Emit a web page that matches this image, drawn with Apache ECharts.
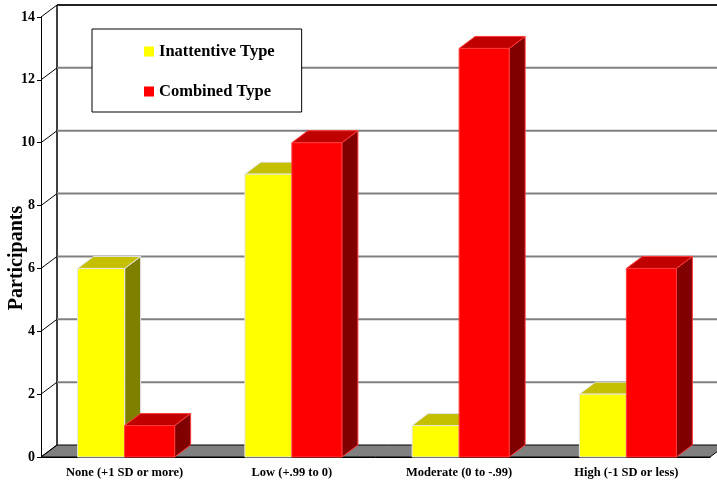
<!DOCTYPE html>
<html>
<head>
<meta charset="utf-8">
<style>
  html, body { margin: 0; padding: 0; background: #fff; }
  #chart { width: 717px; height: 486px; }
</style>
<script src="https://cdn.jsdelivr.net/npm/echarts@6/dist/echarts.min.js"></script>
</head>
<body>
<div id="chart"></div>
<script>
// Severity groups along the horizontal axis
var categories = ['None (+1 SD or more)', 'Low (+.99 to 0)', 'Moderate (0 to -.99)', 'High (-1 SD or less)'];
// Participant counts per group
var inattentive = [6, 9, 1, 2];
var combined = [1, 10, 13, 6];
// Vertical axis ticks
var yTicks = [0, 2, 4, 6, 8, 10, 12, 14];

var FONT = '"Liberation Serif", "Times New Roman", serif';
// Depth of the pseudo-3D box (pixels to the right and up)
var DX = 16, DY = -12;

function boxBar(frac0, frac1, front, top, side, edge) {
  return function (params, api) {
    var cat = api.value(0), v = api.value(1);
    var b = api.coord([cat, 0]);
    var t = api.coord([cat, v]);
    var w = api.size([1, 0])[0];
    var x0 = b[0] + frac0 * w, x1 = b[0] + frac1 * w;
    var yb = b[1], yt = t[1];
    var st = { stroke: edge, lineWidth: 1 };
    return {
      type: 'group',
      children: [
        { type: 'polygon', shape: { points: [[x1, yt], [x1 + DX, yt + DY], [x1 + DX, yb + DY], [x1, yb]] },
          style: Object.assign({ fill: side }, st) },
        { type: 'polygon', shape: { points: [[x0, yt], [x1, yt], [x1 + DX, yt + DY], [x0 + DX, yt + DY]] },
          style: Object.assign({ fill: top }, st) },
        { type: 'rect', shape: { x: x0, y: yt, width: x1 - x0, height: yb - yt },
          style: Object.assign({ fill: front }, st) }
      ]
    };
  };
}

// Back wall, left wall and floor of the box
function walls(params, api) {
  var v = api.value(0);
  var cs = params.coordSys;
  var xL = cs.x, xR = cs.x + cs.width;
  var y = api.coord([0, v])[1];
  var kids = [];
  if (v === yTicks[0]) {
    kids.push({ type: 'polygon', shape: { points: [[xL, y], [xR, y], [xR + DX, y + DY], [xL + DX, y + DY]] },
      style: { fill: '#808080', stroke: '#000', lineWidth: 1 } });
    var yTop = api.coord([0, yTicks[yTicks.length - 1]])[1];
    kids.push({ type: 'line', shape: { x1: xL + DX, y1: y + DY, x2: xL + DX, y2: yTop + DY },
      style: { stroke: '#000', lineWidth: 1.5 } });
  } else {
    var isTop = v === yTicks[yTicks.length - 1];
    kids.push({ type: 'line', shape: { x1: xL + DX, y1: y + DY, x2: xR + DX + 20, y2: y + DY },
      style: { stroke: isTop ? '#222' : '#808080', lineWidth: 2 } });
  }
  kids.push({ type: 'line', shape: { x1: xL, y1: y, x2: xL + DX, y2: y + DY },
    style: { stroke: '#000', lineWidth: 1 } });
  return { type: 'group', children: kids };
}

var chart = echarts.init(document.getElementById('chart'), null, { renderer: 'canvas' });
chart.setOption({
  animation: false,
  backgroundColor: '#fff',
  grid: { left: 41, right: 7, top: 17, bottom: 29, containLabel: false, outerBoundsMode: 'none' },
  graphic: [{
    type: 'text',
    x: 17, y: 258,
    rotation: Math.PI / 2,
    style: {
      text: 'Participants',
      fontFamily: FONT, fontWeight: 'bold', fontSize: 20, fill: '#000',
      align: 'center', verticalAlign: 'middle'
    }
  }],
  legend: {
    orient: 'vertical',
    left: 92, top: 29,
    padding: [14, 27, 12, 52],
    itemGap: 23,
    itemWidth: 10, itemHeight: 10,
    icon: 'rect',
    borderColor: '#000', borderWidth: 1,
    backgroundColor: '#fff',
    textStyle: { fontFamily: FONT, fontWeight: 'bold', fontSize: 16.5, color: '#000' },
    data: ['Inattentive Type', 'Combined Type']
  },
  xAxis: {
    type: 'category',
    data: categories,
    boundaryGap: true,
    axisLine: { lineStyle: { color: '#000', width: 1 } },
    axisTick: { length: 5, lineStyle: { color: '#000' } },
    axisLabel: { fontFamily: FONT, fontWeight: 'bold', fontSize: 12.5, color: '#000', margin: 9 },
    splitLine: { show: false }
  },
  yAxis: {
    type: 'value',
    min: 0, max: 14, interval: 2,
    axisLine: { show: true, lineStyle: { color: '#000', width: 1 } },
    axisTick: { show: true, length: 4, lineStyle: { color: '#000' } },
    axisLabel: { fontFamily: FONT, fontWeight: 'bold', fontSize: 14, color: '#000', margin: 6 },
    splitLine: { show: false }
  },
  series: [
    {
      type: 'custom', name: 'walls', silent: true, z: 1,
      renderItem: walls,
      encode: { y: 0 },
      data: yTicks.map(function (v) { return [v]; })
    },
    {
      type: 'custom', name: 'Inattentive Type', z: 3,
      itemStyle: { color: '#ffff00' },
      renderItem: boxBar(-47 / 167.25, 0, '#ffff00', '#c4c000', '#808000', '#e4e4e4'),
      encode: { x: 0, y: 1 },
      data: inattentive.map(function (v, i) { return [i, v]; })
    },
    {
      type: 'custom', name: 'Combined Type', z: 4,
      itemStyle: { color: '#ff0000' },
      renderItem: boxBar(0, 50 / 167.25, '#ff0000', '#c00000', '#800000', '#ff3a3a'),
      encode: { x: 0, y: 1 },
      data: combined.map(function (v, i) { return [i, v]; })
    }
  ]
});
</script>
</body>
</html>
